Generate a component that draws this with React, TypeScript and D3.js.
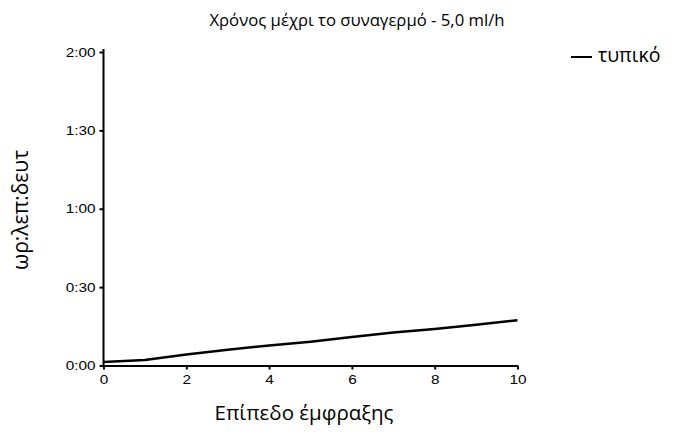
import React, { useEffect, useRef } from "react";
import * as d3 from "d3";

const levels = [0, 1, 2, 3, 4, 5, 6, 7, 8, 9, 10];
const minutesTypical = [1.3, 2.1, 4.2, 6.0, 7.7, 9.1, 10.9, 12.6, 14.0, 15.6, 17.3];
const xTicks = [0, 2, 4, 6, 8, 10];
const yTicks = [0, 30, 60, 90, 120];
const yTickLabels = ["0:00", "0:30", "1:00", "1:30", "2:00"];
const seriesName = "τυπικό";
const title = "Χρόνος μέχρι το συναγερμό - 5,0 ml/h";
const xLabel = "Επίπεδο έμφραξης";
const yLabel = "ωρ:λεπ:δευτ";

export default function App() {
  const ref = useRef<SVGSVGElement>(null);
  useEffect(() => {
    const svg = d3.select(ref.current);
    svg.selectAll("*").remove();
    const left = 103.5, right = 517.5, top = 52, bottom = 365.5;
    const x = d3.scaleLinear().domain([0, 10]).range([left, right]);
    const y = d3.scaleLinear().domain([0, 120]).range([bottom, top]);
    const tickFont = "'Liberation Sans', Arial, sans-serif";
    const textFont = "'Open Sans', 'Noto Sans', sans-serif";

    const stretch = (sel: any) => {
      sel.each(function (this: SVGTextElement) {
        const w = this.getComputedTextLength();
        d3.select(this).attr("textLength", w * 1.18).attr("lengthAdjust", "spacingAndGlyphs");
      });
    };

    const xAxis = svg.append("g").attr("transform", `translate(0,${bottom})`)
      .call(d3.axisBottom(x).tickValues(xTicks).tickSize(4).tickSizeOuter(0).tickPadding(5).tickFormat(d3.format("d")));
    xAxis.select(".domain").attr("stroke", "#000").attr("stroke-width", 2);
    xAxis.selectAll(".tick line").attr("stroke", "#000").attr("stroke-width", 2);
    xAxis.selectAll(".tick text").attr("font-family", tickFont).attr("font-size", 13).attr("fill", "#000").call(stretch);

    const yAxis = svg.append("g").attr("transform", `translate(${left},0)`)
      .call(d3.axisLeft(y).tickValues(yTicks).tickSize(4).tickSizeOuter(0).tickPadding(4)
        .tickFormat((d, i) => yTickLabels[i]));
    yAxis.select(".domain").attr("stroke", "#000").attr("stroke-width", 2)
      .attr("d", `M0,${bottom + 1}V${top - 3}`);
    yAxis.selectAll(".tick line").attr("stroke", "#000").attr("stroke-width", 2);
    yAxis.selectAll(".tick text").attr("font-family", tickFont).attr("font-size", 13).attr("fill", "#000").call(stretch);

    const line = d3.line<number>()
      .x((_, i) => x(levels[i]))
      .y((d) => y(d));
    svg.append("path").datum(minutesTypical).attr("d", line)
      .attr("fill", "none").attr("stroke", "#000").attr("stroke-width", 2.5)
      .attr("stroke-linejoin", "round");

    svg.append("text").attr("x", 357).attr("y", 26).attr("text-anchor", "middle")
      .attr("font-family", textFont).attr("font-size", 16.7).text(title);
    svg.append("text").attr("x", 304).attr("y", 420).attr("text-anchor", "middle")
      .attr("font-family", textFont).attr("font-size", 20.5).text(xLabel);
    svg.append("text").attr("transform", `translate(28,210) rotate(-90)`).attr("text-anchor", "middle")
      .attr("font-family", textFont).attr("font-size", 21).text(yLabel);

    svg.append("line").attr("x1", 571).attr("x2", 592).attr("y1", 57).attr("y2", 57)
      .attr("stroke", "#000").attr("stroke-width", 2);
    svg.append("text").attr("x", 598).attr("y", 62)
      .attr("font-family", textFont).attr("font-size", 19.5).text(seriesName);
  }, []);
  return (
    <svg ref={ref} width={680} height={432} style={{ position: "absolute", left: 0, top: 0, background: "#fff" }} />
  );
}
